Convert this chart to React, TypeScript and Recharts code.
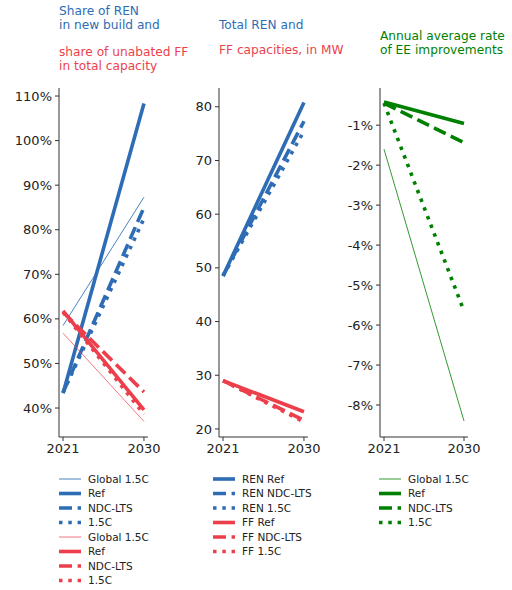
import React from "react"
import { LineChart, Line, XAxis, YAxis } from "recharts"

// x values
const years = [2021, 2030]

// panel 1: shares, in %
const renShareGlobal = [58.5, 87.3]
const renShareRef = [43.3, 108.3]
const renShareNdc = [43.5, 85.0]
const renShare15 = [43.5, 82.5]
const ffShareGlobal = [56.8, 37.0]
const ffShareRef = [61.8, 39.6]
const ffShareNdc = [61.5, 43.6]
const ffShare15 = [61.5, 38.6]

// panel 2: capacities, MW
const renCapRef = [48.5, 80.8]
const renCapNdc = [48.5, 77.3]
const renCap15 = [48.5, 75.5]
const ffCapRef = [29.0, 23.2]
const ffCapNdc = [29.0, 21.6]
const ffCap15 = [29.0, 21.3]

// panel 3: EE improvement rate, %
const eeGlobal = [-1.6, -8.4]
const eeRef = [-0.42, -0.96]
const eeNdc = [-0.45, -1.44]
const ee15 = [-0.45, -5.65]

const shareTicks = [40, 50, 60, 70, 80, 90, 100, 110]
const capTicks = [20, 30, 40, 50, 60, 70, 80]
const eeTicks = [-1, -2, -3, -4, -5, -6, -7, -8]

const BLUE = "#2e6db5"
const RED = "#ec3f4b"
const GREEN = "#008000"
const FONT = "DejaVu Sans, sans-serif"
const DASH = "13 5.6"
const DOT = "3.5 5.8"

type Series = {
  key: string
  label: string
  values: number[]
  color: string
  width: number
  dash?: string
  opacity?: number
}

const panel1: Series[] = [
  { key: "rg", label: "Global 1.5C", values: renShareGlobal, color: BLUE, width: 1, opacity: 0.85 },
  { key: "rr", label: "Ref", values: renShareRef, color: BLUE, width: 3.6 },
  { key: "rn", label: "NDC-LTS", values: renShareNdc, color: BLUE, width: 3.6, dash: DASH },
  { key: "r15", label: "1.5C", values: renShare15, color: BLUE, width: 3.6, dash: DOT },
  { key: "fg", label: "Global 1.5C", values: ffShareGlobal, color: RED, width: 1, opacity: 0.7 },
  { key: "fr", label: "Ref", values: ffShareRef, color: RED, width: 3.6 },
  { key: "fn", label: "NDC-LTS", values: ffShareNdc, color: RED, width: 3.6, dash: DASH },
  { key: "f15", label: "1.5C", values: ffShare15, color: RED, width: 3.6, dash: DOT },
]

const panel2: Series[] = [
  { key: "rr", label: "REN Ref", values: renCapRef, color: BLUE, width: 3.6 },
  { key: "rn", label: "REN NDC-LTS", values: renCapNdc, color: BLUE, width: 3.6, dash: DASH },
  { key: "r15", label: "REN 1.5C", values: renCap15, color: BLUE, width: 3.6, dash: DOT },
  { key: "fr", label: "FF Ref", values: ffCapRef, color: RED, width: 3.6 },
  { key: "fn", label: "FF NDC-LTS", values: ffCapNdc, color: RED, width: 3.6, dash: DASH },
  { key: "f15", label: "FF 1.5C", values: ffCap15, color: RED, width: 3.6, dash: DOT },
]

const panel3: Series[] = [
  { key: "g", label: "Global 1.5C", values: eeGlobal, color: GREEN, width: 1, opacity: 0.8 },
  { key: "r", label: "Ref", values: eeRef, color: GREEN, width: 3.6 },
  { key: "n", label: "NDC-LTS", values: eeNdc, color: GREEN, width: 3.6, dash: DASH },
  { key: "p", label: "1.5C", values: ee15, color: GREEN, width: 3.6, dash: DOT },
]

const toRows = (series: Series[]) =>
  years.map((year, i) => {
    const row: Record<string, number> = { year }
    series.forEach((s) => (row[s.key] = s.values[i]))
    return row
  })

const axisStyle = { stroke: "#333", strokeWidth: 1 }
const tickStyle = { fill: "#222", fontSize: 13, fontFamily: FONT }

function Panel({
  series,
  left,
  yWidth,
  domain,
  ticks,
  fmt,
}: {
  series: Series[]
  left: number
  yWidth: number
  domain: [number, number]
  ticks: number[]
  fmt: (v: number) => string
}) {
  return (
    <div style={{ position: "absolute", left, top: 0 }}>
      <LineChart
        width={160}
        height={460}
        data={toRows(series)}
        margin={{ top: 88, right: 12, bottom: 0, left: 0 }}
      >
        <XAxis
          dataKey="year"
          type="number"
          domain={[2020.55, 2030.45]}
          ticks={years}
          allowDataOverflow
          height={23}
          tickSize={4}
          tickMargin={3}
          axisLine={axisStyle}
          tickLine={axisStyle}
          tick={tickStyle}
        />
        <YAxis
          type="number"
          domain={domain}
          ticks={ticks}
          allowDataOverflow
          width={yWidth}
          tickSize={4}
          tickMargin={3}
          axisLine={axisStyle}
          tickLine={axisStyle}
          tick={tickStyle}
          tickFormatter={fmt}
          interval={0}
        />
        {series.map((s) => (
          <Line
            key={s.key}
            type="linear"
            dataKey={s.key}
            stroke={s.color}
            strokeWidth={s.width}
            strokeDasharray={s.dash}
            strokeOpacity={s.opacity ?? 1}
            dot={false}
            activeDot={false}
            isAnimationActive={false}
          />
        ))}
      </LineChart>
    </div>
  )
}

function LegendBlock({ series, x }: { series: Series[]; x: number }) {
  return (
    <g>
      {series.map((s, i) => {
        const y = 479 + i * 14.5
        return (
          <g key={s.key + i}>
            <line
              x1={x}
              x2={x + 22}
              y1={y}
              y2={y}
              stroke={s.color}
              strokeWidth={s.width}
              strokeDasharray={s.dash}
              strokeOpacity={s.opacity ?? 1}
            />
            <text x={x + 29} y={y + 3.9} fontSize={10.5} fontFamily={FONT} fill="#222">
              {s.label}
            </text>
          </g>
        )
      })}
    </g>
  )
}

export default function App() {
  const pct = (v: number) => `${v}%`
  return (
    <div style={{ position: "absolute", left: 0, top: 0, width: 512, height: 590, background: "#fff" }}>
      <Panel series={panel1} left={0} yWidth={59} domain={[33.5, 111.8]} ticks={shareTicks} fmt={pct} />
      <Panel series={panel2} left={160} yWidth={59} domain={[18.5, 83.5]} ticks={capTicks} fmt={(v) => `${v}`} />
      <Panel series={panel3} left={320} yWidth={60} domain={[-8.8, -0.07]} ticks={eeTicks} fmt={pct} />
      <svg
        width={512}
        height={590}
        style={{ position: "absolute", left: 0, top: 0, pointerEvents: "none" }}
      >
        <g fontFamily={FONT} fontSize={12.2}>
          <text x={59} y={15} fill={BLUE}>Share of REN</text>
          <text x={59} y={29} fill={BLUE}>in new build and</text>
          <text x={59} y={56} fill={RED}>share of unabated FF</text>
          <text x={59} y={70} fill={RED}>in total capacity</text>
          <text x={219} y={29} fill={BLUE}>Total REN and</text>
          <text x={219} y={53.5} fill={RED}>FF capacities, in MW</text>
          <text x={380} y={39.5} fill={GREEN}>Annual average rate</text>
          <text x={380} y={53.5} fill={GREEN}>of EE improvements</text>
        </g>
        <LegendBlock series={panel1} x={59} />
        <LegendBlock series={panel2} x={213} />
        <LegendBlock series={panel3} x={379} />
      </svg>
    </div>
  )
}
